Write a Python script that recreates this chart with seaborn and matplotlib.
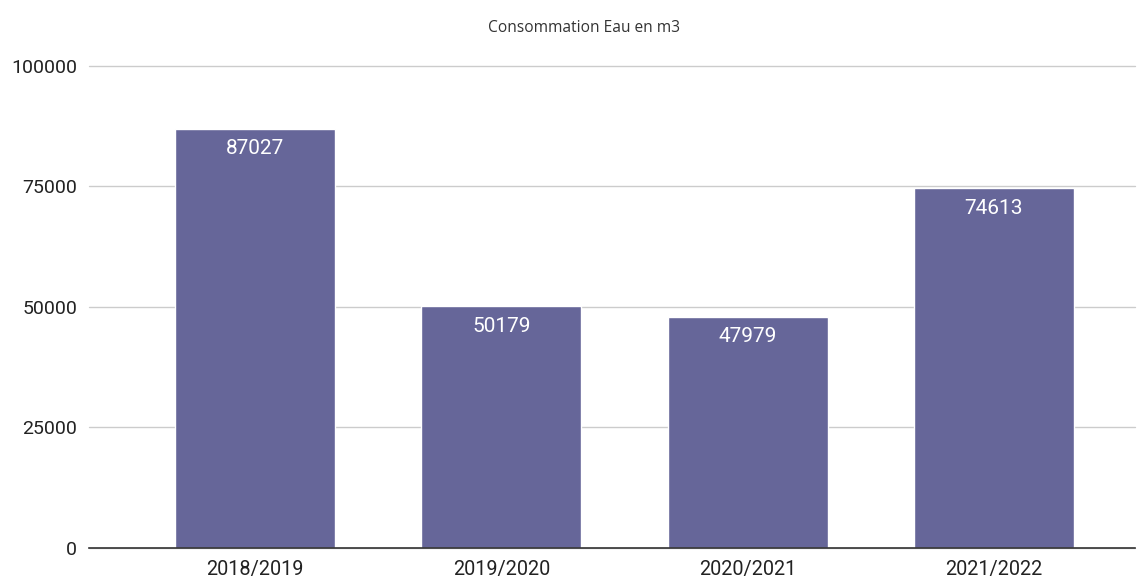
import matplotlib
matplotlib.use("Agg")
import matplotlib.pyplot as plt
import pandas as pd
import seaborn as sns

# Données
annees = ["2018/2019", "2019/2020", "2020/2021", "2021/2022"]
consommation = [87027, 50179, 47979, 74613]
yticks = [0, 25000, 50000, 75000, 100000]

BAR_COLOR = "#666699"

sns.set_theme(style="white")
plt.rcParams["font.family"] = ["Roboto", "DejaVu Sans"]

df = pd.DataFrame({"annee": annees, "m3": consommation})

fig = plt.figure(figsize=(11.43, 5.8), dpi=100)
ax = fig.add_axes([0.0779, 0.0552, 0.915, 0.831])

sns.barplot(data=df, x="annee", y="m3", color=BAR_COLOR, saturation=1,
            width=0.65, ax=ax, zorder=3)

ax.set_xlim(-0.674, 3.572)
ax.set_ylim(0, 100000)
ax.set_yticks(yticks)
ax.set_yticklabels([str(t) for t in yticks])
ax.grid(axis="y", color="#cccccc", lw=1, zorder=0)
for g in ax.get_ygridlines():
    g.set_clip_on(False)

for s in ["top", "right", "left"]:
    ax.spines[s].set_visible(False)
ax.spines["bottom"].set_color("#333333")
ax.spines["bottom"].set_linewidth(1.2)
ax.spines["bottom"].set_zorder(4)

ax.tick_params(axis="y", length=0, labelsize=14, labelcolor="#222222", pad=8.5)
ax.tick_params(axis="x", length=0, labelsize=14.3, labelcolor="#222222", pad=9)
ax.set_xlabel("")
ax.set_ylabel("")

for i, v in enumerate(consommation):
    ax.annotate(str(v), (i, v), xytext=(0, -14.5), textcoords="offset points",
                ha="center", va="center", color="white", fontsize=15, zorder=5)

fig.text(0.511, 0.951, "Consommation Eau en m3", ha="center", va="center",
         fontsize=11.2, color="#333333", family=["Open Sans", "DejaVu Sans"])

fig.savefig("out.png", dpi=100)
